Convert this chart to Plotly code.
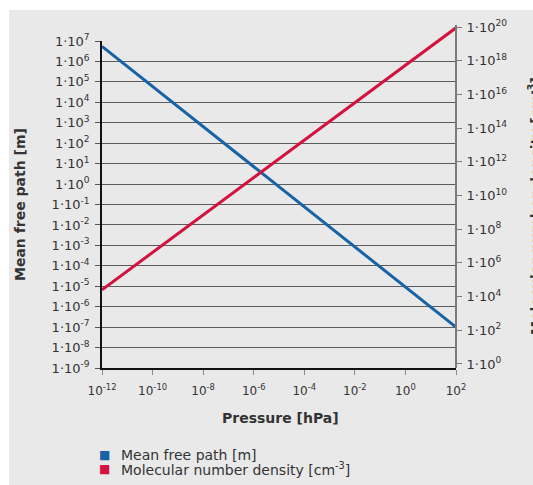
import plotly.graph_objects as go

# Data
pressure = [1e-12, 1e2]                 # hPa
mean_free_path = [5.5e6, 1e-7]          # m
number_density = [2.5e4, 9e19]          # cm^-3

x_ticks = [1e-12, 1e-10, 1e-8, 1e-6, 1e-4, 1e-2, 1e0, 1e2]
x_text = ["10<sup>-12</sup>", "10<sup>-10</sup>", "10<sup>-8</sup>", "10<sup>-6</sup>",
          "10<sup>-4</sup>", "10<sup>-2</sup>", "10<sup>0</sup>", "10<sup>2</sup>"]
left_exp = list(range(7, -10, -1))
right_exp = list(range(20, -1, -2))
series_names = ["Mean free path [m]", "Molecular number density [cm<sup>-3</sup>]"]

BLUE = "#1763a6"
RED = "#d3123e"
TXT = "#333333"
FONT = "DejaVu Sans, Liberation Sans, sans-serif"

W, H = 533, 485
L, R, T, B = 102, 456, 25, 368
pw, ph = R - L, B - T

def px(x):
    return (x - L) / pw

def py(y):
    return (B - y) / ph

fig = go.Figure()
fig.add_trace(go.Scatter(x=pressure, y=mean_free_path, mode="lines", name=series_names[0],
                         line=dict(color=BLUE, width=3), showlegend=False,
                         yaxis="y", hoverinfo="skip"))
fig.add_trace(go.Scatter(x=pressure, y=number_density, mode="lines", name=series_names[1],
                         line=dict(color=RED, width=3), showlegend=False,
                         yaxis="y2", hoverinfo="skip"))

left_dom_top = py(41)

legend_ann = []
for i, (nm, col) in enumerate(zip(series_names, [BLUE, RED])):
    yy = 455 + i * 14
    legend_ann.append(dict(text="■", xref="paper", yref="paper", x=px(104), y=py(yy),
                           showarrow=False, font=dict(size=12, color=col),
                           xanchor="center", yanchor="middle"))
    legend_ann.append(dict(text=nm, xref="paper", yref="paper", x=px(119), y=py(yy),
                           showarrow=False, font=dict(size=14, color=TXT),
                           xanchor="left", yanchor="middle"))

fig.update_layout(
    width=W, height=H,
    margin=dict(l=L, r=W - R, t=T, b=H - B, pad=0),
    paper_bgcolor="white",
    plot_bgcolor="rgba(0,0,0,0)",
    font=dict(family=FONT, color=TXT, size=12),
    showlegend=False,
    xaxis=dict(type="log", range=[-12, 2], tickvals=x_ticks, ticktext=x_text,
               showgrid=False, zeroline=False, showline=True, linecolor="#111111",
               linewidth=1.5, ticks="outside", ticklen=5, tickcolor="#8a8a8a",
               tickwidth=1.2, tickfont=dict(size=12, color=TXT), anchor="y",
               ticklabelstandoff=6),
    yaxis=dict(type="log", range=[-9, 7], domain=[0, left_dom_top],
               tickvals=[10.0 ** e for e in left_exp],
               ticktext=[f"1·10<sup>{e}</sup>" for e in left_exp],
               showgrid=True, gridcolor="#5c5c5c", gridwidth=1.2,
               showline=True, linecolor="#111111", linewidth=1.5,
               ticks="outside", ticklen=5, tickcolor="#555555", tickwidth=1.2,
               tickfont=dict(size=13, color=TXT), zeroline=False, anchor="x",
               ticklabelstandoff=3),
    yaxis2=dict(type="log", range=[-0.24, 20.12], domain=[0, 1],
                anchor="free", position=1, side="right",
                tickvals=[10.0 ** e for e in right_exp],
                ticktext=[f"1·10<sup>{e}</sup>" for e in right_exp],
                showgrid=False, showline=True, linecolor="#7a7a7a", linewidth=2,
                ticks="outside", ticklen=5, tickcolor="#7a7a7a", tickwidth=1.2,
                tickfont=dict(size=13, color=TXT), zeroline=False,
                ticklabelstandoff=2),
    shapes=[dict(type="rect", xref="paper", yref="paper",
                 x0=px(9), x1=px(W + 20), y0=py(H + 20), y1=py(10),
                 fillcolor="#e9e9ea", line=dict(width=0), layer="below")],
    annotations=[
        dict(text="<b>Mean free path [m]</b>", textangle=-90, xref="paper", yref="paper",
             x=px(20), y=py(205), showarrow=False, font=dict(size=14, color=TXT),
             xanchor="center", yanchor="middle"),
        dict(text="<b>Molecular number density [cm<sup>-3</sup>]</b>", textangle=-90,
             xref="paper", yref="paper", x=px(535), y=py(206), showarrow=False,
             font=dict(size=14, color=TXT), xanchor="center", yanchor="middle"),
        dict(text="<b>Pressure [hPa]</b>", xref="paper", yref="paper",
             x=px(280), y=py(418), showarrow=False, font=dict(size=14, color=TXT),
             xanchor="center", yanchor="middle"),
    ] + legend_ann,
)

fig.write_html("out.html", config={"displayModeBar": False},
               post_script="document.body.style.margin='0';document.body.style.overflow='hidden';")
